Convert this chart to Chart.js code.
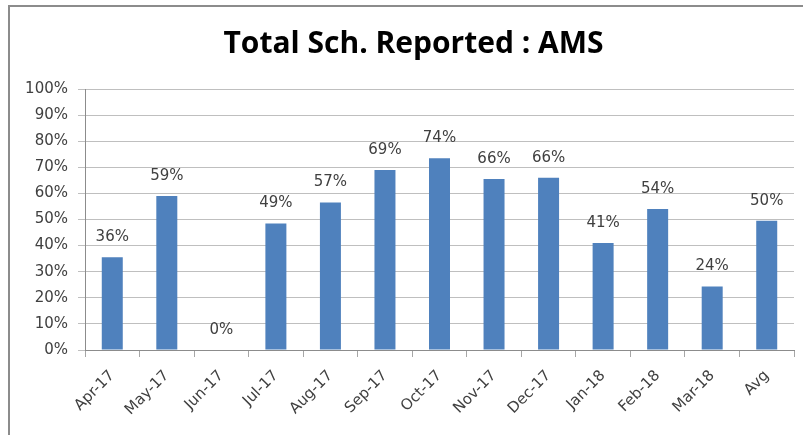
<!DOCTYPE html>
<html>
<head>
<meta charset="utf-8">
<script src="https://cdn.jsdelivr.net/npm/chart.js@4"></script>
<style>
  html, body { margin: 0; padding: 0; background: #fff; }
  #wrap { position: absolute; left: 0; top: 0; width: 803px; height: 435px; }
  #frame { position: absolute; left: 8px; top: 5px; right: 0; bottom: 0; border-left: 2px solid #8c8c8c; border-top: 2px solid #8c8c8c; pointer-events: none; }
  canvas { position: absolute; left: 0; top: 0; }
</style>
</head>
<body>
<div id="wrap">
  <canvas id="c" width="803" height="435"></canvas>
  <div id="frame"></div>
</div>
<script>
const categories = ["Apr-17","May-17","Jun-17","Jul-17","Aug-17","Sep-17","Oct-17","Nov-17","Dec-17","Jan-18","Feb-18","Mar-18","Avg"];
const reportedPct = [35.5, 59, 0, 48.5, 56.5, 69, 73.5, 65.5, 66, 41, 54, 24.3, 49.5];
const yTicks = [0,10,20,30,40,50,60,70,80,90,100];
const chartTitle = "Total Sch. Reported : AMS";

const FONT = "'DejaVu Sans', 'Open Sans', sans-serif";
const TITLE_FONT = "'Open Sans', 'Liberation Sans', sans-serif";
const TEXT = "#404040";

const labelPlugin = {
  id: 'valueLabels',
  afterDatasetsDraw(chart) {
    const ctx = chart.ctx;
    const meta = chart.getDatasetMeta(0);
    ctx.save();
    ctx.font = "15px " + FONT;
    ctx.fillStyle = TEXT;
    ctx.textAlign = 'center';
    ctx.textBaseline = 'middle';
    meta.data.forEach((bar, i) => {
      ctx.fillText(Math.round(reportedPct[i]) + "%", bar.x, bar.y - 20);
    });
    ctx.restore();
  }
};

const titlePlugin = {
  id: 'offsetTitle',
  afterDraw(chart) {
    const ctx = chart.ctx;
    ctx.save();
    ctx.font = "bold 30px " + TITLE_FONT;
    ctx.fillStyle = '#000';
    ctx.textAlign = 'center';
    ctx.textBaseline = 'middle';
    ctx.fillText(chartTitle, 413.5, 44);
    ctx.restore();
  }
};

new Chart(document.getElementById('c'), {
  type: 'bar',
  data: {
    labels: categories,
    datasets: [{
      data: reportedPct,
      backgroundColor: '#4F81BD',
      borderWidth: 0,
      barPercentage: 0.385,
      categoryPercentage: 1.0
    }]
  },
  options: {
    responsive: false,
    animation: false,
    devicePixelRatio: 1,
    layout: { padding: { left: 10, right: 9, top: 89, bottom: 0 } },
    plugins: {
      legend: { display: false },
      tooltip: { enabled: false },
      title: { display: false }
    },
    scales: {
      x: {
        grid: { display: true, drawOnChartArea: false, drawTicks: true, tickLength: 7, color: '#a6a6a6', offset: true },
        border: { display: true, color: '#8c8c8c', width: 1 },
        ticks: { color: TEXT, font: { family: FONT, size: 15 }, minRotation: 45, maxRotation: 45, autoSkip: false, padding: 10 },
        afterFit(scale) { scale.height = 85; }
      },
      y: {
        min: 0, max: 100,
        afterBuildTicks(scale) { scale.ticks = yTicks.map(v => ({ value: v })); },
        grid: { color: '#bfbfbf', drawTicks: true, tickLength: 7 },
        border: { display: true, color: '#8c8c8c', width: 1 },
        ticks: { color: TEXT, font: { family: FONT, size: 15 }, padding: 10, callback: v => v + '%' },
        afterFit(scale) { scale.width = 75; }
      }
    }
  },
  plugins: [labelPlugin, titlePlugin]
});
</script>
</body>
</html>
